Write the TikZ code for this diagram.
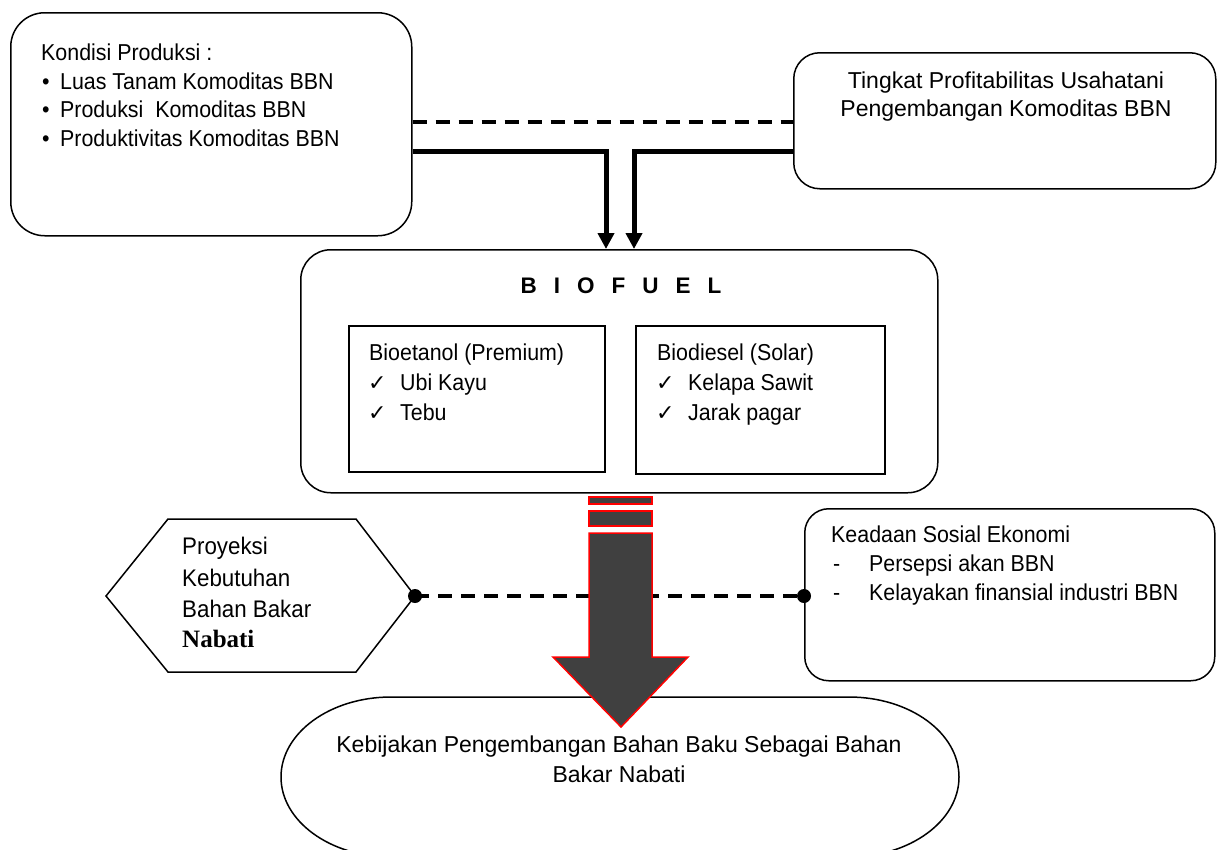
\documentclass[tikz,border=0pt]{standalone}
\usepackage{fontspec}
\setmainfont{Liberation Sans}
\newfontfamily\narrowfont{Liberation Sans}[FakeStretch=0.93]
\newfontfamily\symfont{DejaVu Sans}
\newfontfamily\seriffont{Liberation Serif}
\usetikzlibrary{arrows.meta}
\definecolor{arrowfill}{HTML}{404040}
\begin{document}
\begin{tikzpicture}[x=1pt,y=-1pt,
  rbox/.style={draw, line width=1.5pt, inner sep=0pt, anchor=north west},
  txt/.style={inner sep=0pt, anchor=base west, font=\fontsize{23}{28}\narrowfont},
  wtxt/.style={inner sep=0pt, anchor=base, font=\fontsize{23}{28}\selectfont},
  ctxt/.style={txt, anchor=base},
  chk/.style={txt, font=\fontsize{22}{28}\symfont},
  conn/.style={line width=5pt, -{Triangle[length=16pt,width=16pt]}},
  dashconn/.style={line width=3.5pt, dash pattern=on 14pt off 9pt},
  dot/.style={fill=black}]
\useasboundingbox (0,0) rectangle (1217,849);

% boxes
\node[rbox, rounded corners=34pt, minimum width=401pt, minimum height=223pt] (kondisi) at (10,12) {};
\node[rbox, rounded corners=26pt, minimum width=422pt, minimum height=136pt] (tingkat) at (793,52) {};
\node[rbox, rounded corners=30pt, minimum width=637pt, minimum height=243pt] (biofuel) at (300,249) {};
\node[rbox, minimum width=256pt, minimum height=146pt] (bioet) at (348,325) {};
\node[rbox, minimum width=249pt, minimum height=148pt] (biod) at (635,325) {};
\node[rbox, rounded corners=24pt, minimum width=410pt, minimum height=172pt] (keadaan) at (804,508) {};

% hexagon
\draw[line width=1.5pt] (106,596) -- (168,519) -- (356,519) -- (415,596) -- (356,672) -- (168,672) -- cycle;
\coordinate (proyE) at (415,596);

% stadium
\draw[line width=1.5pt] (391,697) -- (849,697)
  arc[start angle=270, end angle=360, x radius=110, y radius=80]
  arc[start angle=0, end angle=90, x radius=110, y radius=80]
  -- (391,857)
  arc[start angle=90, end angle=180, x radius=110, y radius=80]
  arc[start angle=180, end angle=270, x radius=110, y radius=80] -- cycle;

% texts: Kondisi
\node[txt] (k0) at (41,60) {Kondisi Produksi :};
\node[txt] (kb1) at (42,89) {•};
\node[txt] (k1) at (60,89) {Luas Tanam Komoditas BBN};
\node[txt] (kb2) at (42,117) {•};
\node[txt] (k2) at (60,117) {Produksi\ \ Komoditas BBN};
\node[txt] (kb3) at (42,146) {•};
\node[txt] (k3) at (60,146) {Produktivitas Komoditas BBN};

% Tingkat
\node[wtxt] (t1) at (1006,88) {Tingkat Profitabilitas Usahatani};
\node[wtxt] (t2) at (1006,116) {Pengembangan Komoditas BBN};

% Biofuel
\node[ctxt, font=\fontsize{22.5}{28}\selectfont\bfseries] (bf) at (621,293) {\spaceskip=17pt\relax B I O F U E L};
\node[txt] (be0) at (369,360) {Bioetanol (Premium)};
\node[chk] (bc1) at (368,390) {✓};
\node[txt] (be1) at (400,390) {Ubi Kayu};
\node[chk] (bc2) at (368,420) {✓};
\node[txt] (be2) at (400,420) {Tebu};
\node[txt] (bd0) at (657,360) {Biodiesel (Solar)};
\node[chk] (dc1) at (656,390) {✓};
\node[txt] (bd1) at (688,390) {Kelapa Sawit};
\node[chk] (dc2) at (656,420) {✓};
\node[txt] (bd2) at (688,420) {Jarak pagar};

% Proyeksi
\node[txt, font=\fontsize{24}{28}\narrowfont] (p1) at (182,554) {Proyeksi};
\node[txt, font=\fontsize{24}{28}\narrowfont] (p2) at (182,586) {Kebutuhan};
\node[txt, font=\fontsize{24}{28}\narrowfont] (p3) at (182,617) {Bahan Bakar};
\node[txt, font=\fontsize{25}{28}\seriffont\bfseries] (p4) at (182,647) {Nabati};

% Keadaan
\node[txt] (s0) at (831,542) {Keadaan Sosial Ekonomi};
\node[txt] (sd1) at (833,571) {-};
\node[txt] (s1) at (869,571) {Persepsi akan BBN};
\node[txt] (sd2) at (833,600) {-};
\node[txt] (s2) at (869,600) {Kelayakan finansial industri BBN};

% Kebijakan
\node[wtxt] (kj1) at (619,752) {Kebijakan Pengembangan Bahan Baku Sebagai Bahan};
\node[wtxt] (kj2) at (619,782) {Bakar Nabati};

% connectors top
\draw[dashconn] (kondisi.east |- 0,122) -- (tingkat.west |- 0,122);
\draw[conn] (kondisi.east |- 0,151) -| (606,0 |- biofuel.north);
\draw[conn] (tingkat.west |- 0,151) -| (634,0 |- biofuel.north);

% lower dashed connector
\draw[dashconn] (proyE) -- (keadaan.west |- proyE);
\fill[dot] (proyE) circle (7pt);
\fill[dot] (keadaan.west |- proyE) circle (7pt);

% big arrow
\begin{scope}[fill=arrowfill, draw=red, line width=1.5pt]
\filldraw (589,497) rectangle (652,504);
\filldraw (589,511) rectangle (652,526);
\filldraw (589,533) -- (652,533) -- (652,657) -- (688,657) -- (621,727) -- (553,657) -- (589,657) -- cycle;
\end{scope}
\end{tikzpicture}
\end{document}
